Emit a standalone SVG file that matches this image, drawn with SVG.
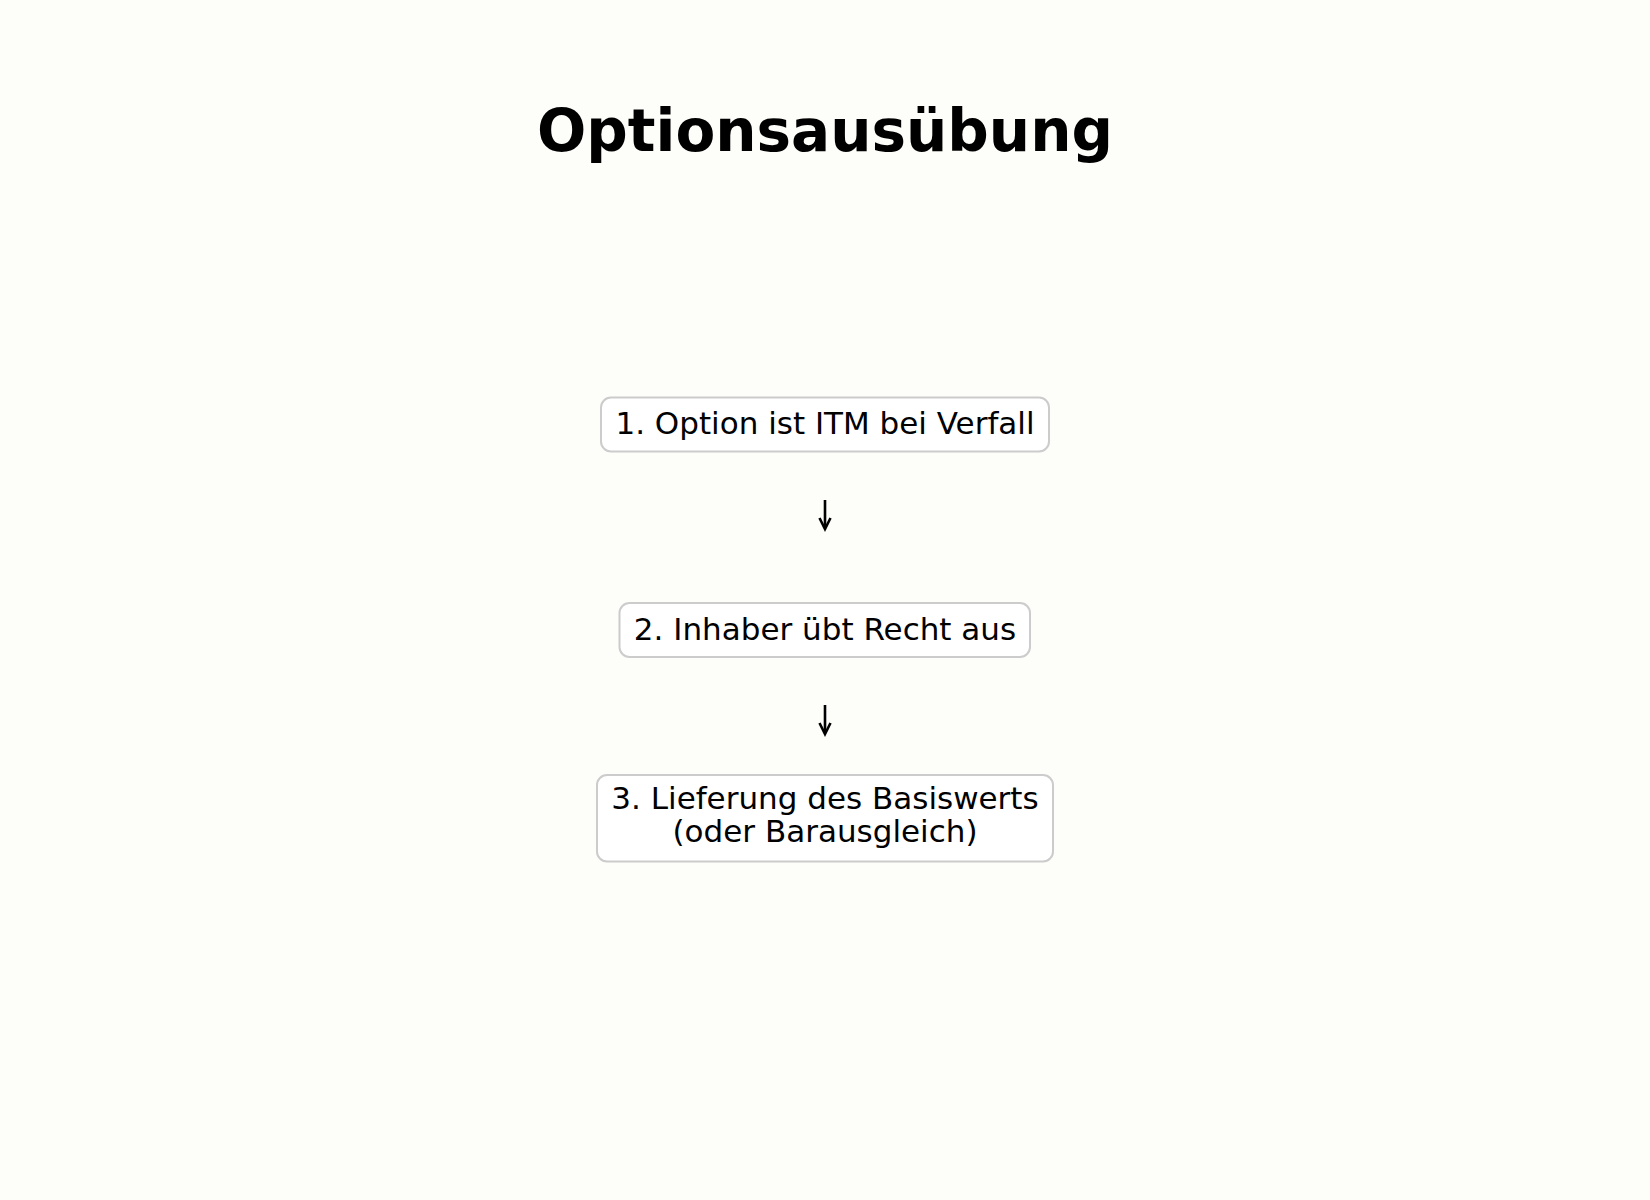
<svg xmlns="http://www.w3.org/2000/svg" width="1650" height="1200" viewBox="0 0 1650 1200">
<style>
.bg{fill:#fdfdf9}
.node rect{fill:#ffffff;stroke:#cccccc;stroke-width:2}
.node text{font-family:"DejaVu Sans",sans-serif;font-size:31px;fill:#000;text-anchor:middle}
.title{font-family:"DejaVu Sans",sans-serif;font-weight:bold;font-size:58px;fill:#000;text-anchor:middle}
.conn path{fill:none;stroke:#000;stroke-width:2.6}
</style>
<rect class="bg" x="0" y="0" width="1650" height="1200"/>
<text class="title" x="825" y="151">Optionsausübung</text>
<g id="connectors" class="conn">
<path d="M825,500 L825,528"/>
<path d="M819.5,518 L825,529 L830.5,518"/>
<path d="M825,705 L825,733"/>
<path d="M819.5,723 L825,734 L830.5,723"/>
</g>
<g id="node1" class="node">
<rect x="601" y="397.5" width="448" height="54" rx="10"/>
<text x="825" y="434">1. Option ist ITM bei Verfall</text>
</g>
<g id="node2" class="node">
<rect x="619.5" y="603" width="410.5" height="54" rx="10"/>
<text x="825" y="639.5">2. Inhaber übt Recht aus</text>
</g>
<g id="node3" class="node">
<rect x="597" y="775" width="456" height="86.5" rx="10"/>
<text x="825" y="808.5">3. Lieferung des Basiswerts</text>
<text x="825" y="842">(oder Barausgleich)</text>
</g>
</svg>
